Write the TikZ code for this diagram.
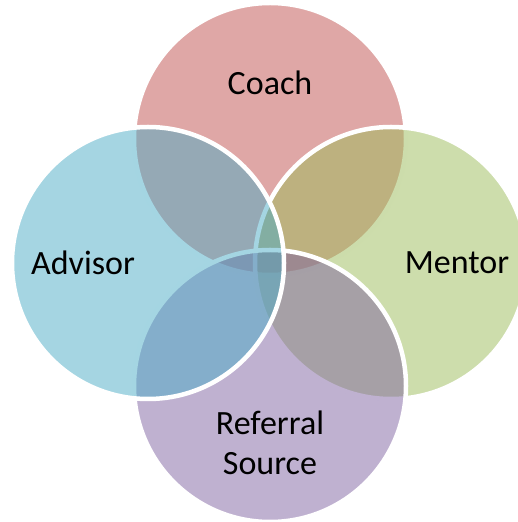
\documentclass[tikz,border=0pt]{standalone}
\usepackage{fontspec}
\setmainfont{Carlito}
\usetikzlibrary{positioning}

\definecolor{coachred}{HTML}{C0504D}
\definecolor{mentorgreen}{HTML}{9BBB59}
\definecolor{referralpurple}{HTML}{8064A2}
\definecolor{advisorblue}{HTML}{4BACC6}

\begin{document}
\begin{tikzpicture}[
  x=1pt, y=1pt,
  font=\fontsize{34}{40}\selectfont,
  petal/.style={circle, minimum size=272pt, inner sep=0pt, outer sep=0pt,
    draw=white, line width=4.5pt, fill opacity=0.5},
  lbl/.style={align=center, text=black, inner sep=0pt}
]
\clip (0,0) rectangle (518,522);

% circles, drawn from back to front
\node[petal, fill=coachred] (coach) at (270,383) {};
\node[petal, fill=mentorgreen] (mentor) at (391,259) {};
\node[petal, fill=referralpurple] (referral) at (270,136) {};
\node[petal, fill=advisorblue] (advisor) at (148,259) {};

% labels
\node[lbl] (coachlbl) at (270,439) {Coach};
\node[lbl] (mentorlbl) at (457,259) {Mentor};
\node[lbl] (referrallbl) at (270,79) {Referral\\Source};
\node[lbl] (advisorlbl) at (83,259) {Advisor};
\end{tikzpicture}
\end{document}
